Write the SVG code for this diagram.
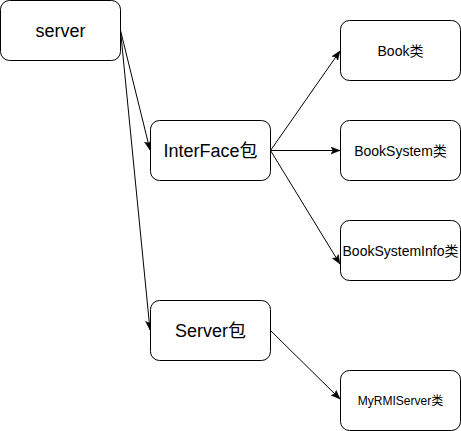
<svg xmlns="http://www.w3.org/2000/svg" width="461" height="431" viewBox="0 0 461 431">
<style>
.box{fill:#fff;stroke:#000;stroke-width:1}
.t{font-family:"Liberation Sans","Noto Sans CJK SC",sans-serif;fill:#000;text-anchor:middle;dominant-baseline:central}
.big{font-size:18px}
.mid{font-size:14px}
.sm{font-size:12px}
.e{fill:none;stroke:#000;stroke-width:1;marker-end:url(#ah)}
</style>
<defs>
<marker id="ah" markerUnits="userSpaceOnUse" markerWidth="10" markerHeight="8" refX="9" refY="4" orient="auto">
<path d="M0,0.5 L9,4 L0,7.5 L2,4 z" fill="#000" stroke="#000" stroke-width="0.5"/>
</marker>
</defs>
<g id="connectors">
<path class="e" d="M120.5,30.5 L150,150"/>
<path class="e" d="M120.5,30.5 L150,330"/>
<path class="e" d="M270.5,150.5 L340,51"/>
<path class="e" d="M270.5,150.5 L340,150.5"/>
<path class="e" d="M270.5,150.5 L340,264"/>
<path class="e" d="M270.5,330.5 L340,399"/>
</g>
<g id="server"><rect class="box" x="0.5" y="0.5" width="120" height="60" rx="9"/><text class="t big" x="60.5" y="30.5">server</text></g>
<g id="interface"><rect class="box" x="150.5" y="120.5" width="120" height="60" rx="9"/><text class="t big" x="210.5" y="150.5">InterFace包</text></g>
<g id="serverpkg"><rect class="box" x="150.5" y="300.5" width="120" height="60" rx="9"/><text class="t big" x="210.5" y="330.5">Server包</text></g>
<g id="book"><rect class="box" x="340.5" y="20.5" width="120" height="60" rx="9"/><text class="t mid" x="400.5" y="50.5">Book类</text></g>
<g id="booksystem"><rect class="box" x="340.5" y="120.5" width="120" height="60" rx="9"/><text class="t mid" x="400.5" y="150.5">BookSystem类</text></g>
<g id="booksysteminfo"><rect class="box" x="340.5" y="220.5" width="120" height="60" rx="9"/><text class="t mid" x="400.5" y="250.5">BookSystemInfo类</text></g>
<g id="myrmiserver"><rect class="box" x="340.5" y="370.5" width="120" height="60" rx="9"/><text class="t sm" x="400.5" y="400.5">MyRMIServer类</text></g>
</svg>
